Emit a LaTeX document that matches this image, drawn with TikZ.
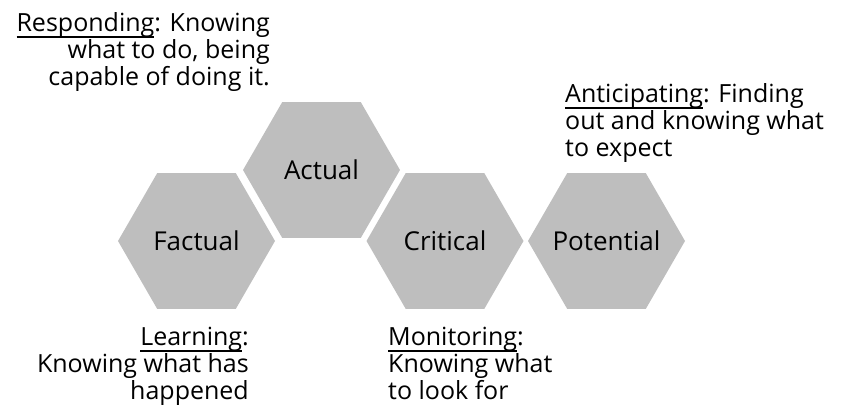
\documentclass[tikz,border=0pt]{standalone}
\usepackage{fontspec}
\setmainfont{Open Sans}
\usetikzlibrary{shapes.geometric}

\definecolor{hexgray}{RGB}{190,190,190}

% thick underline under the descenders
\newcommand{\ulword}[1]{\setbox0\hbox{#1}\rlap{\rule[-7pt]{\wd0}{1.6pt}}\box0}

\tikzset{
	hexcell/.style={regular polygon, regular polygon sides=6, minimum size=157pt, inner sep=0pt, fill=hexgray},
	hexlabel/.style={inner sep=0pt, font=\fontsize{26}{30}\selectfont},
	blurb/.style={inner sep=0pt, font=\fontsize{25}{27}\selectfont}
}

\begin{document}
\begin{tikzpicture}[x=1pt,y=-1pt]
		\useasboundingbox (0,0) rectangle (842,407);

		\node [hexcell, label={[hexlabel]center:Factual}] (factual) at (196.5,241) {};
		\node [hexcell, label={[hexlabel]center:Actual}] (actual) at (321.5,170) {};
		\node [hexcell, label={[hexlabel]center:Critical}] (critical) at (445,241) {};
		\node [hexcell, label={[hexlabel]center:Potential}] (potential) at (606.5,241) {};

		% base = baseline of the last line
		\node [blurb, anchor=base east, align=right] (responding) at (270,85) {\ulword{Responding}: Knowing\\what to do, being\\capable of doing it.};
		\node [blurb, anchor=base west, align=left] (anticipating) at (565,156) {\ulword{Anticipating}: Finding\\out and knowing what\\to expect};
		\node [blurb, anchor=base east, align=right] (learning) at (249,399) {\ulword{Learning}:\\Knowing what has\\happened};
		\node [blurb, anchor=base west, align=left] (monitoring) at (388,399) {\ulword{Monitoring}:\\Knowing what\\to look for};
	\end{tikzpicture}
\end{document}
